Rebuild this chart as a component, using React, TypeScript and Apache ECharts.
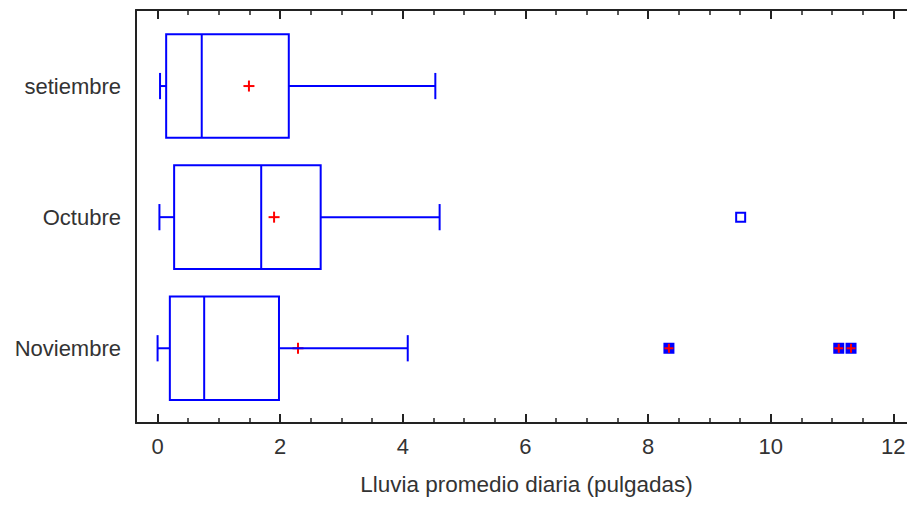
import React, { useEffect, useRef } from "react";
import * as echarts from "echarts";

const months = ["setiembre", "Octubre", "Noviembre"];
const whiskerLow = [0.04, 0.03, 0.0];
const q1 = [0.14, 0.27, 0.2];
const medians = [0.72, 1.69, 0.76];
const q3 = [2.14, 2.66, 1.98];
const whiskerHigh = [4.53, 4.6, 4.08];
const means = [1.49, 1.9, 2.29];
// [month index, value]
const outsidePoints = [[1, 9.51]];
const farOutsidePoints = [
  [2, 8.34],
  [2, 11.11],
  [2, 11.31],
];

const BLUE = "#0000ff";
const RED = "#ff0000";
const FRAME = "#222222";
const TEXT = "#333333";
const FONT = "'Liberation Sans', Arial, sans-serif";
const BOX_HALF = 0.395;
const CAP_HALF = 0.1;

export default function App() {
  const ref = useRef<HTMLDivElement>(null);

  useEffect(() => {
    if (!ref.current) return;
    const chart = echarts.init(ref.current, null, { renderer: "svg" });

    const boxData = months.map((_, i) => [
      i,
      whiskerLow[i],
      q1[i],
      medians[i],
      q3[i],
      whiskerHigh[i],
      means[i],
    ]);

    const lineStyle = { stroke: BLUE, lineWidth: 2, fill: "none" };

    const renderBox = (params: any, api: any) => {
      const yi = api.value(0);
      const lo = api.value(1);
      const a = api.value(2);
      const m = api.value(3);
      const b = api.value(4);
      const hi = api.value(5);
      const mean = api.value(6);
      const [xLo, yc] = api.coord([lo, yi]);
      const [xA] = api.coord([a, yi]);
      const [xM] = api.coord([m, yi]);
      const [xB] = api.coord([b, yi]);
      const [xHi] = api.coord([hi, yi]);
      const [xMean] = api.coord([mean, yi]);
      const y1 = api.coord([a, yi - BOX_HALF])[1];
      const y2 = api.coord([a, yi + BOX_HALF])[1];
      const yTop = Math.min(y1, y2);
      const yBot = Math.max(y1, y2);
      const c1 = api.coord([a, yi - CAP_HALF])[1];
      const c2 = api.coord([a, yi + CAP_HALF])[1];
      const cTop = Math.min(c1, c2);
      const cBot = Math.max(c1, c2);
      const mh = 5.5;
      return {
        type: "group",
        children: [
          { type: "line", shape: { x1: xMean - mh, y1: yc, x2: xMean + mh, y2: yc }, style: { stroke: RED, lineWidth: 2 } },
          { type: "line", shape: { x1: xMean, y1: yc - mh, x2: xMean, y2: yc + mh }, style: { stroke: RED, lineWidth: 2 } },
          { type: "rect", shape: { x: xA, y: yTop, width: xB - xA, height: yBot - yTop }, style: lineStyle },
          { type: "line", shape: { x1: xM, y1: yTop, x2: xM, y2: yBot }, style: lineStyle },
          { type: "line", shape: { x1: xLo, y1: yc, x2: xA, y2: yc }, style: lineStyle },
          { type: "line", shape: { x1: xB, y1: yc, x2: xHi, y2: yc }, style: lineStyle },
          { type: "line", shape: { x1: xLo, y1: cTop, x2: xLo, y2: cBot }, style: lineStyle },
          { type: "line", shape: { x1: xHi, y1: cTop, x2: xHi, y2: cBot }, style: lineStyle },
        ],
      };
    };

    const makeOutlier = (withPlus: boolean) => (params: any, api: any) => {
      const [x, y] = api.coord([api.value(1), api.value(0)]);
      const s = 4.5;
      const children: any[] = [
        { type: "rect", shape: { x: x - s, y: y - s, width: 2 * s, height: 2 * s }, style: { stroke: BLUE, lineWidth: 2, fill: withPlus ? BLUE : "#ffffff" } },
      ];
      if (withPlus) {
        children.push(
          { type: "line", shape: { x1: x - s, y1: y, x2: x + s, y2: y }, style: { stroke: RED, lineWidth: 2 } },
          { type: "line", shape: { x1: x, y1: y - s, x2: x, y2: y + s }, style: { stroke: RED, lineWidth: 2 } }
        );
      }
      return { type: "group", children };
    };

    const xCommon = {
      type: "value",
      min: -0.352,
      max: 12.386,
      splitNumber: 6,
      minInterval: 2,
      maxInterval: 2,
      splitLine: { show: false },
      axisLine: { show: true, onZero: false, lineStyle: { color: FRAME, width: 2 } },
      axisTick: { show: true, inside: true, length: 9, lineStyle: { color: FRAME, width: 2 } },
      minorTick: { show: true, splitNumber: 4, length: 5, lineStyle: { color: FRAME, width: 1.5 } },
    };

    chart.setOption({
      animation: false,
      backgroundColor: "#ffffff",
      grid: {
        left: 136,
        width: 781,
        top: 10,
        bottom: 82,
        containLabel: false,
        outerBoundsMode: "none",
      },
      xAxis: [
        {
          ...xCommon,
          position: "bottom",
          axisLabel: {
            fontSize: 22,
            fontFamily: FONT,
            color: TEXT,
            margin: 12,
            formatter: (v: number) =>
              Math.abs(v - Math.round(v)) > 1e-6 ? "" : String(Math.round(v)),
          },
          name: "Lluvia promedio diaria (pulgadas)",
          nameLocation: "middle",
          nameGap: 50,
          nameTextStyle: { fontSize: 22.5, fontFamily: FONT, color: TEXT },
        },
        {
          ...xCommon,
          position: "top",
          axisLabel: { show: false },
        },
      ],
      yAxis: {
        type: "value",
        inverse: true,
        min: -0.58,
        max: 2.57,
        splitNumber: 3,
        minInterval: 1,
        maxInterval: 1,
        splitLine: { show: false },
        axisTick: { show: false },
        axisLine: { show: true, onZero: false, lineStyle: { color: FRAME, width: 2 } },
        axisLabel: {
          fontSize: 22,
          fontFamily: FONT,
          color: TEXT,
          margin: 15,
          formatter: (v: number) =>
            Number.isInteger(v) && months[v] !== undefined ? months[v] : "",
        },
      },
      series: [
        {
          type: "custom",
          xAxisIndex: 0,
          renderItem: renderBox,
          encode: { x: [1, 2, 3, 4, 5, 6], y: 0 },
          data: boxData,
        },
        {
          type: "custom",
          xAxisIndex: 0,
          renderItem: makeOutlier(false),
          encode: { x: 1, y: 0 },
          data: outsidePoints,
        },
        {
          type: "custom",
          xAxisIndex: 0,
          renderItem: makeOutlier(true),
          encode: { x: 1, y: 0 },
          data: farOutsidePoints,
        },
      ],
    });

    return () => chart.dispose();
  }, []);

  return (
    <div
      ref={ref}
      style={{ position: "fixed", left: 0, top: 0, width: 907, height: 505 }}
    />
  );
}
